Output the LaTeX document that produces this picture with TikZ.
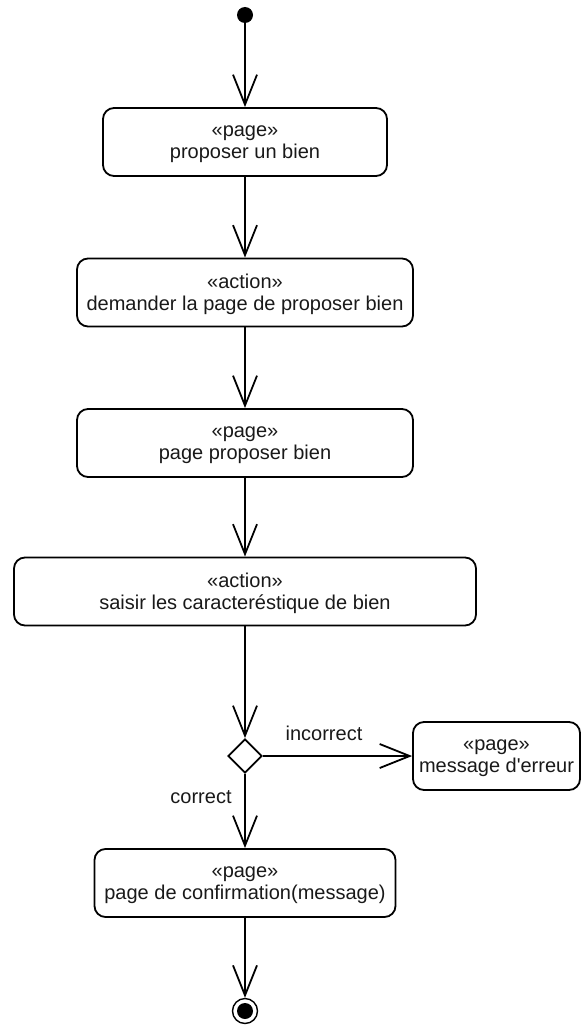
\documentclass[tikz,border=0pt]{standalone}
\usepackage{fontspec}
\setmainfont{Liberation Sans}[Ligatures=TeXOff]
\usetikzlibrary{arrows.meta,shapes.geometric}
\begin{document}
\begin{tikzpicture}[x=1pt,y=-1pt,
  font=\fontsize{20}{22}\selectfont,
  every node/.style={text=black!90},
  activity/.style={draw, line width=1.8pt, rounded corners=11pt, align=center,
    inner sep=0pt, minimum height=68pt, text depth=-1pt},
  initnode/.style={circle, fill=black, minimum size=16pt, inner sep=0pt},
  finalnode/.style={circle, draw, line width=1.4pt, minimum size=25pt, inner sep=0pt,
    path picture={\fill[black] (path picture bounding box.center) circle (8pt);}},
  decision/.style={diamond, draw, line width=1.8pt, minimum width=34pt,
    minimum height=34pt, inner sep=0pt, shape aspect=1},
  flow/.style={line width=1.8pt, -{Straight Barb[length=30pt,width=24pt,line width=1.8pt]}},
  guard/.style={inner sep=0pt}
]
\useasboundingbox (0,0) rectangle (581,1025);

\node[initnode] (start) at (245,15) {};
\node[activity, minimum width=284pt] (b1) at (245,142) {«page»\\proposer un bien};
\node[activity, minimum width=336pt] (b2) at (245,292.5) {«action»\\demander la page de proposer bien};
\node[activity, minimum width=336pt] (b3) at (245,443) {«page»\\page proposer bien};
\node[activity, minimum width=462pt] (b4) at (245,591.5) {«action»\\saisir les caracteréstique de bien};
\node[decision] (dec) at (245,756) {};
\node[activity, minimum width=167pt] (err) at (496.5,756) {«page»\\message d'erreur};
\node[activity, minimum width=301pt] (b5) at (245,883) {«page»\\page de confirmation(message)};
\node[finalnode] (stop) at (245,1011) {};

\node[guard] (lblinc) at (324,733) {incorrect};
\node[guard] (lblcor) at (201,797) {correct};

\draw[flow] (start) -- (b1);
\draw[flow] (b1) -- (b2);
\draw[flow] (b2) -- (b3);
\draw[flow] (b3) -- (b4);
\draw[flow] (b4) -- (dec);
\draw[flow] (dec) -- (err);
\draw[flow] (dec) -- (b5);
\draw[flow] (b5) -- (stop);
\end{tikzpicture}
\end{document}
